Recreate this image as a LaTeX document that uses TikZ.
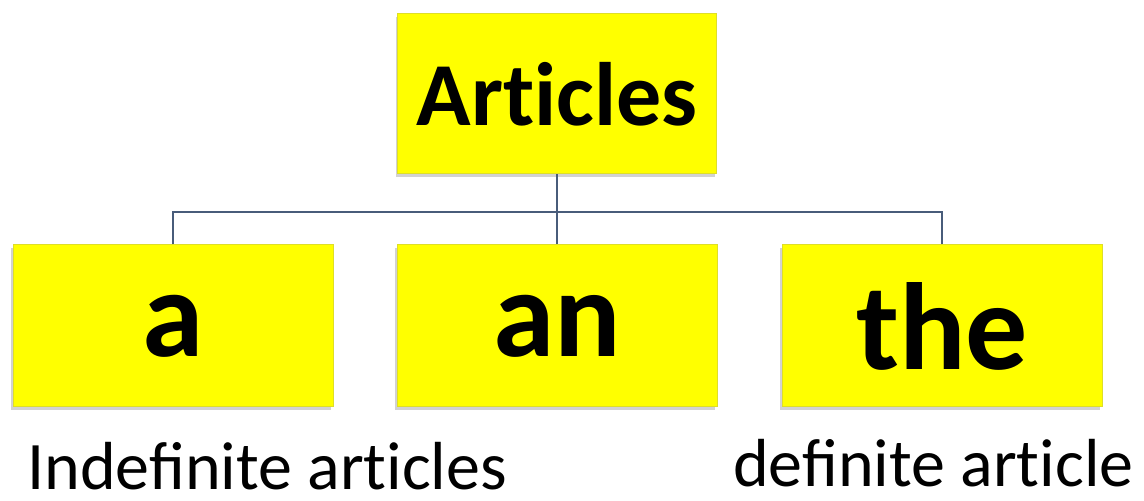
\documentclass[tikz,border=0pt]{standalone}
\usepackage{fontspec}
\setmainfont{Carlito}
\usetikzlibrary{shadows}

\definecolor{boxyellow}{RGB}{255,255,0}
\definecolor{boxedge}{RGB}{222,222,40}
\definecolor{linkblue}{RGB}{72,92,122}

% break the "ti" ligature of Carlito
\newcommand\tinolig{t\kern0pt i}

\tikzset{
  wordbox/.style={draw=boxedge, line width=1pt, fill=boxyellow,
    minimum width=320pt, minimum height=162pt, inner sep=0pt,
    drop shadow={shadow xshift=-2pt, shadow yshift=-3pt, fill=black!35, opacity=.5}},
  link/.style={draw=linkblue, line width=1.6pt},
  note/.style={anchor=base west, inner sep=0pt, text depth=0pt, font=\fontsize{68}{78}\selectfont}
}

\begin{document}
\begin{tikzpicture}[x=1pt,y=1pt]
\useasboundingbox (0,0) rectangle (1144,501);

% top box
\node[wordbox, minimum width=319pt, minimum height=160pt, font=\fontsize{90}{100}\selectfont\bfseries] (top) at (557,407) {Ar\tinolig cles};

% the three articles
\node[wordbox, font=\fontsize{124}{130}\selectfont\bfseries] (a) at (173,175) {a};
\node[wordbox, font=\fontsize{124}{130}\selectfont\bfseries] (an) at (557,175) {an};
\node[wordbox, font=\fontsize{124}{130}\selectfont\bfseries] (the) at (942,175) {the};

% connectors
\coordinate (bus) at (557,289);
\draw[link] (top.south) -- (an.north);
\draw[link] (a.north) |- (bus) -| (the.north);

% labels below
\node[note] (indef) at (27,11) {Indefinite ar\tinolig cles};
\node[note] (def) at (733,15) {definite ar\tinolig cle};
\end{tikzpicture}
\end{document}
